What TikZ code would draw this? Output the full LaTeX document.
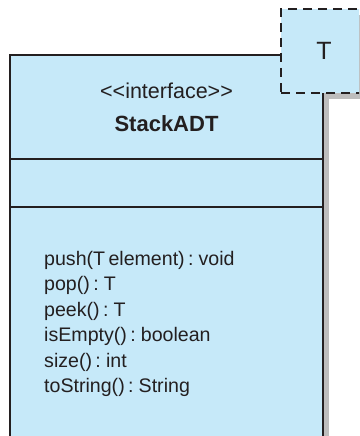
\documentclass[tikz,border=0pt]{standalone}
\usepackage{fontspec}
\setmainfont{Liberation Sans}
\usepackage{tikz}
\usetikzlibrary{positioning, backgrounds}
\definecolor{umlblue}{HTML}{C6E9F9}
\definecolor{umlgray}{HTML}{BDBDBD}
\definecolor{umlline}{HTML}{231F20}
\newcommand{\opfont}{\fontsize{19.6}{22}\selectfont\spaceskip 0.17em\relax}
\tikzstyle{part} = [rectangle, draw=umlline, fill=umlblue, line width=2pt, minimum width=313pt, inner sep=0pt, outer sep=0pt]
\tikzstyle{param} = [rectangle, draw=umlline, fill=umlblue, dash pattern=on 9pt off 6pt, line width=2pt, minimum width=86pt, minimum height=84pt, inner sep=0pt, outer sep=0pt, text=umlline, font=\fontsize{25}{30}\selectfont]
\tikzstyle{head} = [anchor=base, inner sep=0pt, text=umlline, font=\fontsize{21.5}{26}\selectfont]
\tikzstyle{op} = [anchor=base west, inner sep=0pt, text=umlline, font=\opfont]

\begin{document}
\begin{tikzpicture}[x=1pt, y=-1pt]
\useasboundingbox (0,0) rectangle (359,436);
\clip (0,0) rectangle (359,436);
% the three compartments of the class
\node[part, minimum height=104pt] (Head) at (166.5,107) {};
\node[part, minimum height=48pt, below=0pt of Head] (Attrs) {};
\node[part, minimum height=233pt, below=0pt of Attrs] (Ops) {};
% generic parameter box sits over the corner
\node[param] (Param) at (324,51) {T};
\begin{scope}[on background layer]
\fill[umlgray] ([shift={(6,6)}]Head.north west) rectangle ([shift={(6,6)}]Ops.south east);
\fill[umlgray] ([shift={(6,6)}]Param.north west) rectangle ([shift={(6,6)}]Param.south east);
\end{scope}
\node[head] (Stereo) at (166.5,98) {<\kern0pt<interface>\kern0pt>};
\node[head, font=\fontsize{22}{26}\selectfont\bfseries] (Name) at (166.5,131) {StackADT};
% operations
\foreach \op [count=\i from 0] in {push(T element) : void, pop() : T, peek() : T, isEmpty() : boolean, size() : int, toString() : String}
  \node[op] (Op-\i) at (44,265+25.5*\i) {\op};
\end{tikzpicture}
\end{document}
